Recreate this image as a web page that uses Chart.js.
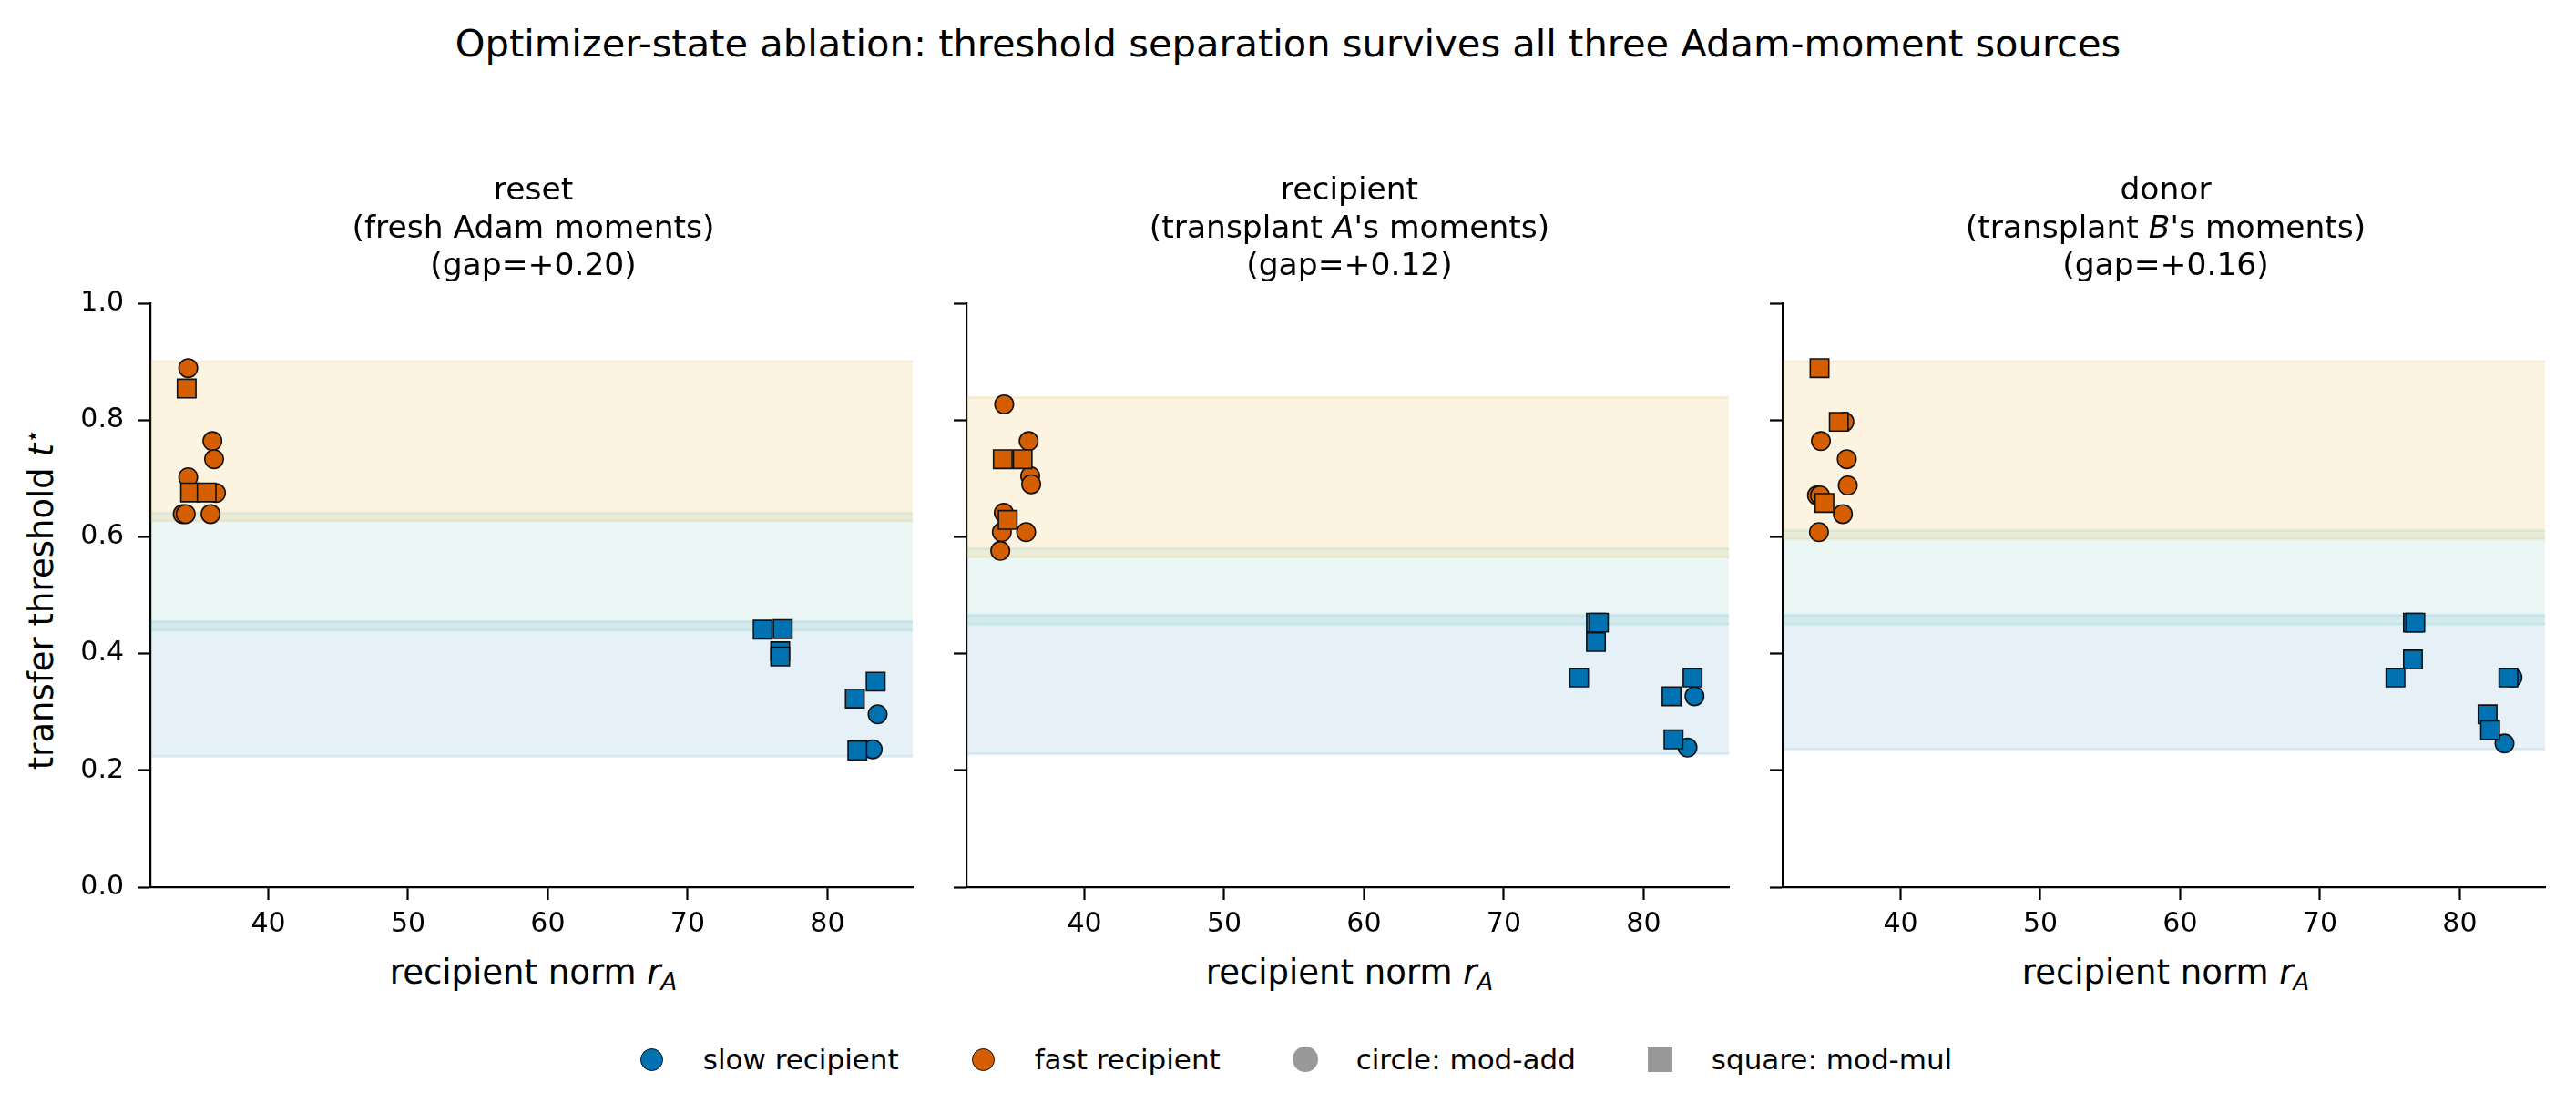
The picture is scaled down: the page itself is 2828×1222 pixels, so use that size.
<!DOCTYPE html>
<html>
<head>
<meta charset="utf-8">
<script src="https://cdn.jsdelivr.net/npm/chart.js@4.4.1/dist/chart.umd.min.js"></script>
<style>
  html, body { margin: 0; padding: 0; background: #fff; }
  body { width: 2828px; height: 1222px; position: relative; overflow: hidden;
         font-family: "DejaVu Sans", sans-serif; color: #000; }
  .txt { position: absolute; white-space: nowrap; line-height: 1; text-align: center; }
  canvas { position: absolute; top: 300px; }
  #suptitle { left: 0; width: 2828px; top: 27px; font-size: 41.6px; }
  .ptitle { font-size: 34.5px; line-height: 41.5px; top: 187.2px; width: 900px; }
  .xlabel { font-size: 37px; top: 1048.7px; width: 900px; }
  .sub { font-size: 0.7em; font-style: italic; position: relative; top: 0.28em; }
  #ylabel { font-size: 37px; left: 45px; top: 658px; transform: translate(-50%, -50%) rotate(-90deg); }
  .star { font-size: 0.7em; position: relative; top: -0.55em; }
  #legend { position: absolute; left: 0; width: 2828px; top: 1143px; height: 40px;
            display: flex; justify-content: center; align-items: center; font-size: 31px; }
  .item { display: flex; align-items: center; margin-right: 62px; }
  .item:last-child { margin-right: 0; }
  .handle { width: 62px; display: flex; justify-content: center; align-items: center; margin-right: 25px; }
  .mk { box-sizing: border-box; display: block; }
</style>
</head>
<body>
<div id="suptitle" class="txt">Optimizer-state ablation: threshold separation survives all three Adam-moment sources</div>
<div id="ylabel" class="txt">transfer threshold <i>t</i><span class="star">⋆</span></div>
<div id="legend"></div>

<script>
/****************************** data ********************************/
const panelNames = ["reset", "recipient", "donor"];
const panelNotes = ["(fresh Adam moments)", "(transplant <i>A</i>'s moments)", "(transplant <i>B</i>'s moments)"];
const gapLabels = ["+0.20", "+0.12", "+0.16"];
const xTicks = [40, 50, 60, 70, 80];
const yTicks = [0.0, 0.2, 0.4, 0.6, 0.8, 1.0];
const xRange = [31.56, 86.1];
const yRange = [0, 1];

// threshold bands, one value per panel
const fastBandLo = [0.627, 0.565, 0.596];
const fastBandHi = [0.901, 0.839, 0.901];
const gapBandLo = [0.440, 0.450, 0.450];
const gapBandHi = [0.641, 0.580, 0.611];
const slowBandLo = [0.224, 0.228, 0.236];
const slowBandHi = [0.455, 0.466, 0.466];

// [recipient norm r_A, transfer threshold t*]
const resetFastAdd = [[34.27, 0.889], [36.00, 0.764], [36.12, 0.733], [34.27, 0.702], [36.26, 0.675], [33.88, 0.639], [34.09, 0.639], [35.87, 0.639]];
const resetFastMul = [[34.16, 0.854], [34.41, 0.676], [35.59, 0.676]];
const resetSlowAdd = [[83.59, 0.296], [83.24, 0.236]];
const resetSlowMul = [[75.37, 0.441], [76.80, 0.442], [76.62, 0.404], [76.62, 0.395], [83.45, 0.352], [81.96, 0.323], [82.14, 0.234]];

const recipFastAdd = [[34.26, 0.827], [36.01, 0.764], [36.12, 0.704], [36.19, 0.690], [34.23, 0.641], [34.09, 0.608], [35.83, 0.608], [33.98, 0.576]];
const recipFastMul = [[34.16, 0.733], [35.58, 0.733], [34.51, 0.629]];
const recipSlowAdd = [[83.64, 0.327], [83.14, 0.239]];
const recipSlowMul = [[76.59, 0.453], [76.80, 0.453], [76.59, 0.420], [75.38, 0.359], [83.50, 0.359], [82.00, 0.327], [82.14, 0.253]];

const donorFastAdd = [[35.98, 0.797], [34.30, 0.764], [36.15, 0.733], [36.22, 0.688], [34.02, 0.671], [34.23, 0.671], [35.87, 0.639], [34.16, 0.608]];
const donorFastMul = [[34.20, 0.889], [35.58, 0.797], [34.55, 0.658]];
const donorSlowAdd = [[83.77, 0.359], [83.20, 0.246]];
const donorSlowMul = [[76.65, 0.453], [76.82, 0.453], [76.65, 0.390], [75.40, 0.359], [83.48, 0.359], [81.99, 0.296], [82.17, 0.269]];

const panelPoints = [
    [resetFastAdd, resetFastMul, resetSlowAdd, resetSlowMul],
    [recipFastAdd, recipFastMul, recipSlowAdd, recipSlowMul],
    [donorFastAdd, donorFastMul, donorSlowAdd, donorSlowMul],
];

/****************************** styling ********************************/
const SLOW = "#0072B2";
const FAST = "#D55E00";
const EDGE = "#111111";
const FONT = "DejaVu Sans";
const axisLeft = [165, 1061, 1957];
const Y_AXIS_W = 165;
const CANVAS_W = 1018;
const CANVAS_H = 734;

Chart.defaults.color = "#000";
Chart.defaults.font.family = FONT;

const bandPlugin = {
    id: "bands",
    beforeDatasetsDraw(chart, args, opts) {
        const { ctx, chartArea } = chart;
        const y = chart.scales.y;
        const i = opts.panel;
        const spans = [
            [fastBandLo[i], fastBandHi[i], "rgba(230,159,0,0.12)"],
            [gapBandLo[i], gapBandHi[i], "rgba(0,158,115,0.08)"],
            [slowBandLo[i], slowBandHi[i], "rgba(0,114,178,0.10)"],
        ];
        ctx.save();
        spans.forEach(([lo, hi, c]) => {
            const top = y.getPixelForValue(hi);
            const bot = y.getPixelForValue(lo);
            ctx.fillStyle = c;
            ctx.fillRect(chartArea.left, top, chartArea.right - chartArea.left, bot - top);
            ctx.strokeStyle = c;
            ctx.lineWidth = 3;
            ctx.beginPath();
            ctx.moveTo(chartArea.left, top); ctx.lineTo(chartArea.right, top);
            ctx.moveTo(chartArea.left, bot); ctx.lineTo(chartArea.right, bot);
            ctx.stroke();
        });
        ctx.restore();
    }
};

function pointSet(points, color, style, radius, order) {
    return {
        data: points.map(([x, y]) => ({ x: x, y: y })),
        pointStyle: style,
        pointRadius: radius,
        pointHoverRadius: radius,
        backgroundColor: color,
        borderColor: EDGE,
        borderWidth: 1.6,
        order: order
    };
}

/****************************** panels ********************************/
panelNames.forEach(function (name, i) {
    const [fastAdd, fastMul, slowAdd, slowMul] = panelPoints[i];

    const canvas = document.createElement("canvas");
    canvas.width = CANVAS_W;
    canvas.height = CANVAS_H;
    canvas.style.left = (axisLeft[i] - Y_AXIS_W) + "px";
    document.body.appendChild(canvas);

    const center = axisLeft[i] + (CANVAS_W - Y_AXIS_W - 12) / 2;

    const title = document.createElement("div");
    title.className = "txt ptitle";
    title.style.left = (center - 450) + "px";
    title.innerHTML = name + "<br>" + panelNotes[i] + "<br>(gap=" + gapLabels[i] + ")";
    document.body.appendChild(title);

    const xlab = document.createElement("div");
    xlab.className = "txt xlabel";
    xlab.style.left = (center - 450) + "px";
    xlab.innerHTML = "recipient norm <i>r</i><span class=\"sub\">A</span>";
    document.body.appendChild(xlab);

    new Chart(canvas, {
        type: "scatter",
        data: {
            datasets: [
                pointSet(slowAdd, SLOW, "circle", 10.2, 2),
                pointSet(fastAdd, FAST, "circle", 10.2, 2),
                pointSet(slowMul, SLOW, "rect", 14.4, 1),
                pointSet(fastMul, FAST, "rect", 14.4, 1),
            ]
        },
        options: {
            responsive: false,
            animation: false,
            devicePixelRatio: 1,
            layout: { padding: { top: 28, right: 12, left: 0, bottom: 0 } },
            plugins: {
                legend: { display: false },
                tooltip: { enabled: false },
                bands: { panel: i }
            },
            scales: {
                x: {
                    type: "linear",
                    min: xRange[0],
                    max: xRange[1],
                    afterBuildTicks: s => { s.ticks = xTicks.map(v => ({ value: v })); },
                    afterFit: s => { s.height = 60; },
                    ticks: { font: { size: 30 }, padding: 9, maxRotation: 0 },
                    grid: { drawOnChartArea: false, tickLength: 14, tickWidth: 2.2, tickColor: "#000" },
                    border: { color: "#000", width: 2.2 }
                },
                y: {
                    type: "linear",
                    min: yRange[0],
                    max: yRange[1],
                    afterBuildTicks: s => { s.ticks = yTicks.map(v => ({ value: v })); },
                    afterFit: s => { s.width = Y_AXIS_W; },
                    ticks: {
                        font: { size: 30 },
                        padding: 15,
                        callback: v => (i === 0 ? Number(v).toFixed(1) : "")
                    },
                    grid: { drawOnChartArea: false, tickLength: 14, tickWidth: 2.2, tickColor: "#000" },
                    border: { color: "#000", width: 2.2 }
                }
            }
        },
        plugins: [bandPlugin]
    });
});

/****************************** legend ********************************/
const legendLabels = ["slow recipient", "fast recipient", "circle: mod-add", "square: mod-mul"];
const legendMarks = [
    { color: SLOW, round: true, size: 25, edge: true },
    { color: FAST, round: true, size: 25, edge: true },
    { color: "#999999", round: true, size: 28, edge: false },
    { color: "#999999", round: false, size: 27, edge: false },
];
const legend = document.getElementById("legend");
legendLabels.forEach(function (label, k) {
    const m = legendMarks[k];
    const item = document.createElement("div");
    item.className = "item";
    item.innerHTML =
        "<span class=\"handle\"><span class=\"mk\" style=\"width:" + m.size + "px;height:" + m.size + "px;background:" + m.color +
        ";border-radius:" + (m.round ? "50%" : "0") + ";border:" + (m.edge ? "1.6px solid " + EDGE : "none") + "\"></span></span>" +
        "<span>" + label + "</span>";
    legend.appendChild(item);
});
</script>
</body>
</html>
